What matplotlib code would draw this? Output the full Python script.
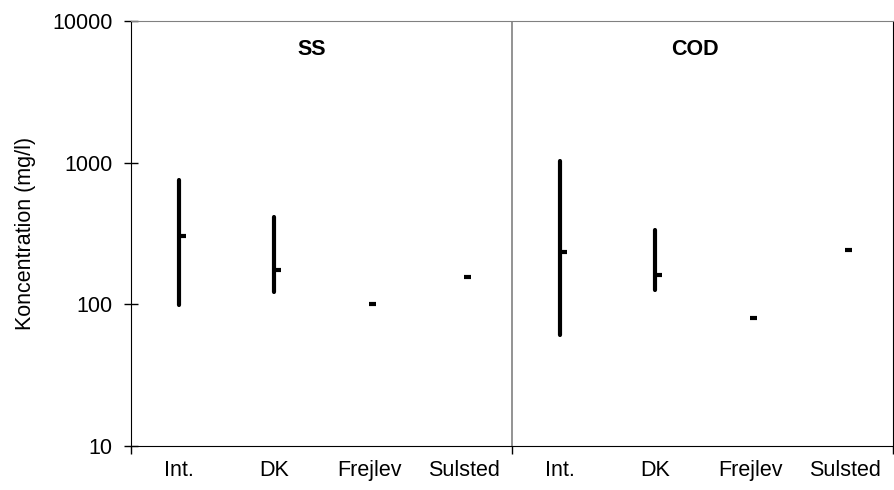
import matplotlib.pyplot as plt
from matplotlib.ticker import FixedLocator, NullLocator

plt.rcParams['font.family'] = ['Liberation Sans', 'DejaVu Sans']

# Plant categories, repeated for the two parameters
sites = ['Int.', 'DK', 'Frejlev', 'Sulsted']
groups = ['SS', 'COD']

# Concentrations in mg/l: minimum, maximum and mean per site
ss_min = [99, 122, 100, 156]
ss_max = [755, 411, 100, 156]
ss_mean = [303, 175, 100, 156]

cod_min = [61, 126, 80, 241]
cod_max = [1028, 335, 80, 241]
cod_mean = [234, 161, 80, 241]

mins = ss_min + cod_min
maxs = ss_max + cod_max
means = ss_mean + cod_mean
labels = sites + sites
xpos = list(range(len(labels)))

fig = plt.figure(figsize=(8.95, 4.9), dpi=100)
ax = fig.add_axes([0.1464, 0.0898, 0.8514, 0.8673])

# high-low lines with the mean as a tick to the right
ax.vlines(xpos, mins, maxs, color='black', lw=3, capstyle='round')
ax.plot(xpos, means, linestyle='none', marker=1, markersize=5,
        markeredgewidth=3, color='black')

ax.set_yscale('log')
ax.set_ylim(10, 10000)
ax.set_xlim(-0.5, len(labels) - 0.5)

ax.yaxis.set_major_locator(FixedLocator([10, 100, 1000, 10000]))
ax.yaxis.set_minor_locator(NullLocator())
ax.set_yticklabels(['10', '100', '1000', '10000'])
ax.tick_params(axis='y', direction='inout', length=10.5, width=1,
               labelsize=15.5, pad=8)

# boundary ticks on the x axis, site names as tick-less minor labels
ax.set_xticks([-0.5, 3.5, 7.5])
ax.set_xticklabels(['', '', ''])
ax.tick_params(axis='x', which='major', direction='out', length=6, width=1)
ax.set_xticks(xpos, minor=True)
ax.set_xticklabels(labels, minor=True)
ax.tick_params(axis='x', which='minor', length=0, labelsize=15.5, pad=10)

ax.set_ylabel('Koncentration (mg/l)', fontsize=15.5, labelpad=12)

ax.spines['top'].set_color('#808080')
for side in ['left', 'right', 'bottom']:
    ax.spines[side].set_color('black')

# separator between the two parameters
ax.axvline(3.5, color='#808080', lw=1.2)

ax.text(1.4, 6300, groups[0], fontsize=15.5, fontweight='bold',
        ha='center', va='center')
ax.text(5.42, 6300, groups[1], fontsize=15.5, fontweight='bold',
        ha='center', va='center')

fig.savefig('out.png', dpi=100)
